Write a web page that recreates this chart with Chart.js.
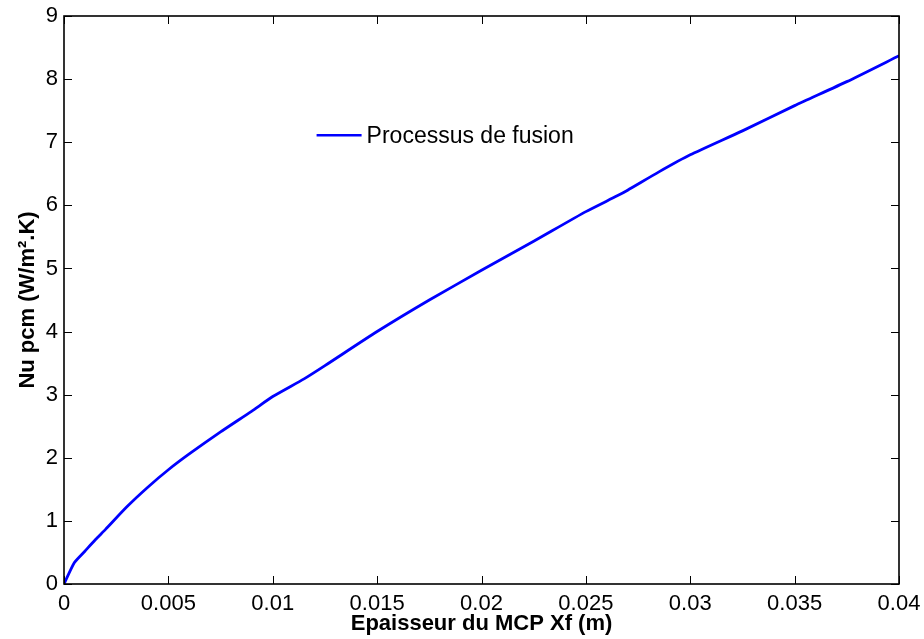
<!DOCTYPE html>
<html>
<head>
<meta charset="utf-8">
<script src="https://cdn.jsdelivr.net/npm/chart.js@4.4.1/dist/chart.umd.min.js"></script>
<style>
  html, body { margin: 0; padding: 0; background: #fff; }
  #wrap { width: 924px; height: 639px; }
</style>
</head>
<body>
<div id="wrap"><canvas id="c"></canvas></div>
<script>
// épaisseur du MCP (m) et Nu
const xf = [0, 0.0005, 0.001, 0.0015, 0.002, 0.003, 0.004, 0.005, 0.006, 0.0075,
  0.009, 0.01, 0.0115, 0.0125, 0.015, 0.0175, 0.02, 0.0225, 0.025, 0.0265,
  0.027, 0.0285, 0.03, 0.0325, 0.035, 0.0375, 0.04];
const nu = [0, 0.34, 0.52, 0.70, 0.87, 1.22, 1.53, 1.81, 2.06, 2.41,
  2.74, 2.97, 3.25, 3.46, 4.0, 4.5, 4.97, 5.43, 5.9, 6.15,
  6.24, 6.53, 6.8, 7.18, 7.58, 7.96, 8.37];
const legendLabel = 'Processus de fusion';
const xTitle = 'Epaisseur du MCP Xf (m)';
const yTitle = 'Nu pcm (W/m\u00B2.K)';

const FONT = '"Liberation Sans", Arial, sans-serif';

// pas de marge auto : la zone du tracé est fixée par layout.padding
function noPad(s) {
  s.paddingLeft = 0; s.paddingRight = 0;
  s.paddingTop = 0; s.paddingBottom = 0;
}

// cadre + graduations vers l'intérieur (style MATLAB)
const boxPlugin = {
  id: 'box',
  afterDraw(chart) {
    const ctx = chart.ctx;
    const a = chart.chartArea;
    const xs = chart.scales.x, ys = chart.scales.y;
    ctx.save();
    ctx.strokeStyle = '#000';
    ctx.lineWidth = 1;
    xs.ticks.forEach(t => {
      const px = Math.round(xs.getPixelForValue(t.value)) + 0.5;
      ctx.beginPath();
      ctx.moveTo(px, a.bottom); ctx.lineTo(px, a.bottom - 8);
      ctx.moveTo(px, a.top); ctx.lineTo(px, a.top + 8);
      ctx.stroke();
    });
    ys.ticks.forEach(t => {
      const py = Math.round(ys.getPixelForValue(t.value)) + 0.5;
      ctx.beginPath();
      ctx.moveTo(a.left, py); ctx.lineTo(a.left + 8, py);
      ctx.moveTo(a.right, py); ctx.lineTo(a.right - 8, py);
      ctx.stroke();
    });
    ctx.lineWidth = 1.6;
    ctx.strokeRect(a.left, a.top, a.right - a.left, a.bottom - a.top);

    // légende dans la zone du tracé
    const ds = chart.data.datasets[0];
    const lx = xs.getPixelForValue(0.0121), ly = ys.getPixelForValue(7.11);
    ctx.strokeStyle = ds.borderColor;
    ctx.lineWidth = 2.5;
    ctx.beginPath();
    ctx.moveTo(lx, ly); ctx.lineTo(lx + 45, ly);
    ctx.stroke();
    ctx.fillStyle = '#000';
    ctx.font = '23px ' + FONT;
    ctx.textBaseline = 'middle';
    ctx.fillText(ds.label, lx + 50, ly + 1);
    ctx.restore();
  }
};

new Chart(document.getElementById('c'), {
  type: 'line',
  data: {
    datasets: [{
      label: legendLabel,
      data: xf.map((x, i) => ({ x: x, y: nu[i] })),
      borderColor: '#0000ff',
      borderWidth: 2.8,
      pointRadius: 0,
      tension: 0.2,
      fill: false
    }]
  },
  options: {
    responsive: true,
    maintainAspectRatio: false,
    animation: false,
    layout: { padding: { top: 16, right: 25, left: 0, bottom: 0 } },
    plugins: { legend: { display: false }, tooltip: { enabled: false } },
    scales: {
      x: {
        type: 'linear', min: 0, max: 0.04,
        afterFit(s) { s.height = 55; noPad(s); },
        grid: { display: false, drawTicks: false },
        border: { display: false },
        ticks: {
          stepSize: 0.005, color: '#000', padding: 7,
          font: { size: 22, family: FONT },
          callback: v => String(Number(v.toFixed(3)))
        },
        title: {
          display: true, text: xTitle, color: '#000',
          font: { size: 22, weight: 'bold', family: FONT },
          padding: { top: 0, bottom: 2 }
        }
      },
      y: {
        min: 0, max: 9,
        afterFit(s) { s.width = 64; noPad(s); },
        grid: { display: false, drawTicks: false },
        border: { display: false },
        ticks: {
          stepSize: 1, color: '#000', padding: 6,
          font: { size: 22, family: FONT }
        },
        title: {
          display: true, text: yTitle, color: '#000',
          font: { size: 22, weight: 'bold', family: FONT },
          padding: { top: 15, bottom: 0 }
        }
      }
    }
  },
  plugins: [boxPlugin]
});
</script>
</body>
</html>
